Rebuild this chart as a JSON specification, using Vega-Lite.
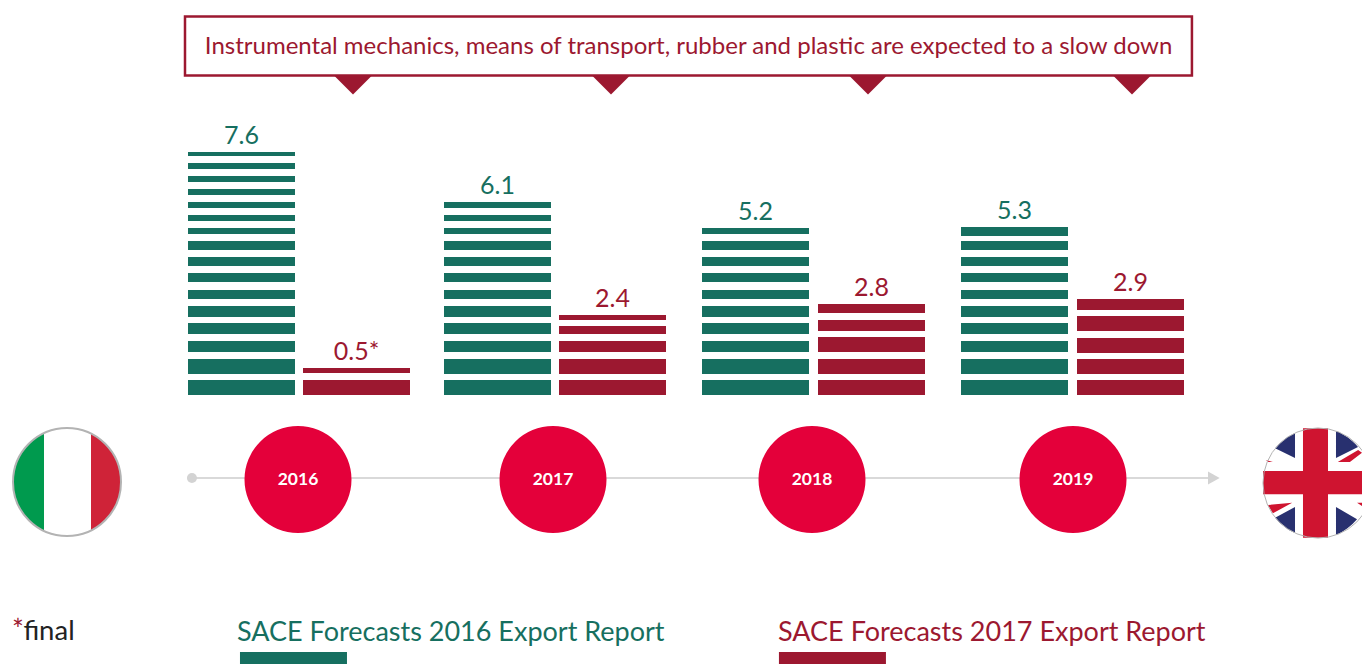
{"$schema":"https://vega.github.io/schema/vega-lite/v6.json","width":1362,"height":664,"autosize":{"type":"fit","contains":"padding"},"padding":0,"background":"white","config":{"view":{"stroke":null},"text":{"font":"Lato"}},
"datasets":{"bars":[
{"year":2016,"report":"2016","low":0,"level":0.46875},{"year":2016,"report":"2016","low":0.65625,"level":1.125},{"year":2016,"report":"2016","low":1.34375,"level":1.6875},{"year":2016,"report":"2016","low":1.90625,"level":2.25},{"year":2016,"report":"2016","low":2.4375,"level":2.78125},{"year":2016,"report":"2016","low":3,"level":3.28125},{"year":2016,"report":"2016","low":3.53125,"level":3.8125},{"year":2016,"report":"2016","low":4.03125,"level":4.3125},{"year":2016,"report":"2016","low":4.53125,"level":4.8125},{"year":2016,"report":"2016","low":5.03125,"level":5.21875},{"year":2016,"report":"2016","low":5.4375,"level":5.625},{"year":2016,"report":"2016","low":5.84375,"level":6.03125},{"year":2016,"report":"2016","low":6.25,"level":6.4375},{"year":2016,"report":"2016","low":6.65625,"level":6.84375},{"year":2016,"report":"2016","low":7.0625,"level":7.25},{"year":2016,"report":"2016","low":7.46875,"level":7.59375},
{"year":2017,"report":"2016","low":0,"level":0.46875},{"year":2017,"report":"2016","low":0.65625,"level":1.125},{"year":2017,"report":"2016","low":1.34375,"level":1.6875},{"year":2017,"report":"2016","low":1.90625,"level":2.25},{"year":2017,"report":"2016","low":2.4375,"level":2.78125},{"year":2017,"report":"2016","low":3,"level":3.28125},{"year":2017,"report":"2016","low":3.53125,"level":3.8125},{"year":2017,"report":"2016","low":4.03125,"level":4.3125},{"year":2017,"report":"2016","low":4.53125,"level":4.8125},{"year":2017,"report":"2016","low":5.03125,"level":5.21875},{"year":2017,"report":"2016","low":5.4375,"level":5.625},{"year":2017,"report":"2016","low":5.84375,"level":6.03125},
{"year":2018,"report":"2016","low":0,"level":0.46875},{"year":2018,"report":"2016","low":0.65625,"level":1.125},{"year":2018,"report":"2016","low":1.34375,"level":1.6875},{"year":2018,"report":"2016","low":1.90625,"level":2.25},{"year":2018,"report":"2016","low":2.4375,"level":2.78125},{"year":2018,"report":"2016","low":3,"level":3.28125},{"year":2018,"report":"2016","low":3.53125,"level":3.8125},{"year":2018,"report":"2016","low":4.03125,"level":4.3125},{"year":2018,"report":"2016","low":4.53125,"level":4.8125},{"year":2018,"report":"2016","low":5.03125,"level":5.21875},
{"year":2019,"report":"2016","low":0,"level":0.46875},{"year":2019,"report":"2016","low":0.65625,"level":1.125},{"year":2019,"report":"2016","low":1.34375,"level":1.6875},{"year":2019,"report":"2016","low":1.90625,"level":2.25},{"year":2019,"report":"2016","low":2.4375,"level":2.78125},{"year":2019,"report":"2016","low":3,"level":3.28125},{"year":2019,"report":"2016","low":3.53125,"level":3.8125},{"year":2019,"report":"2016","low":4.03125,"level":4.3125},{"year":2019,"report":"2016","low":4.53125,"level":4.8125},{"year":2019,"report":"2016","low":4.96875,"level":5.25},
{"year":2016,"report":"2017","low":0,"level":0.46875},{"year":2016,"report":"2017","low":0.6875,"level":0.84375},
{"year":2017,"report":"2017","low":0,"level":0.46875},{"year":2017,"report":"2017","low":0.65625,"level":1.125},{"year":2017,"report":"2017","low":1.34375,"level":1.6875},{"year":2017,"report":"2017","low":1.90625,"level":2.15625},{"year":2017,"report":"2017","low":2.34375,"level":2.5},
{"year":2018,"report":"2017","low":0,"level":0.46875},{"year":2018,"report":"2017","low":0.65625,"level":1.125},{"year":2018,"report":"2017","low":1.34375,"level":1.8125},{"year":2018,"report":"2017","low":2,"level":2.34375},{"year":2018,"report":"2017","low":2.5625,"level":2.84375},
{"year":2019,"report":"2017","low":0,"level":0.46875},{"year":2019,"report":"2017","low":0.65625,"level":1.125},{"year":2019,"report":"2017","low":1.3125,"level":1.78125},{"year":2019,"report":"2017","low":2,"level":2.46875},{"year":2019,"report":"2017","low":2.65625,"level":3}
],
"labels":[
{"year":2016,"report":"2016","label":"7.6","level":7.59375},{"year":2017,"report":"2016","label":"6.1","level":6.03125},{"year":2018,"report":"2016","label":"5.2","level":5.21875},{"year":2019,"report":"2016","label":"5.3","level":5.25},
{"year":2016,"report":"2017","label":"0.5*","level":0.84375},{"year":2017,"report":"2017","label":"2.4","level":2.5},{"year":2018,"report":"2017","label":"2.8","level":2.84375},{"year":2019,"report":"2017","label":"2.9","level":3}
],
"years":[{"when":2016.25,"level":-2.641,"label":"2016"},{"when":2017.25,"level":-2.641,"label":"2017"},{"when":2018.25,"level":-2.641,"label":"2018"},{"when":2019.25,"level":-2.641,"label":"2019"}],
"callouts":[{"when":2016.45,"level":9.969},{"when":2017.45,"level":9.969},{"when":2018.45,"level":9.969},{"when":2019.55,"level":9.969}],
"italy":[{"when":2015,"level":-2.719}],
"uk":[{"when":2020,"level":-2.75}],
"swatches":[{"report":"2016","when":2016.23,"level":-8.03125,"low":-8.40625},{"report":"2017","when":2018.323,"level":-8.03125,"low":-8.40625}],
"legendText":[{"report":"2016","when":2015.974,"level":-7.6875,"label":"SACE Forecasts 2016 Export Report"},{"report":"2017","when":2018.0996,"level":-7.6875,"label":"SACE Forecasts 2017 Export Report"}]
},
"encoding":{
"x":{"field":"when","type":"quantitative","axis":null,"scale":{"domain":[2015,2016,2016.25,2016.45,2016.5,2017,2017.25,2017.45,2017.5,2018,2018.25,2018.45,2018.5,2019,2019.25,2019.5,2019.55,2020],"range":[67,241.5,298,353,356.5,497.5,553,611,612.5,755.5,812,868,871.5,1014.5,1073,1130.5,1132,1318],"nice":false,"zero":false}},
"y":{"field":"level","type":"quantitative","axis":null,"scale":{"domain":[-8.40625,12.34375],"range":[664,0],"nice":false,"zero":false}},
"color":{"field":"report","type":"nominal","legend":null,"scale":{"domain":["2016","2017"],"range":["#166f60","#9c1830"]}}
},
"layer":[
{"data":{"name":"bars"},"transform":[{"calculate":"datum.year + (datum.report === '2017' ? 0.5 : 0)","as":"when"}],"mark":{"type":"rect","width":107},"encoding":{"y2":{"field":"low"}}},
{"data":{"name":"labels"},"transform":[{"calculate":"datum.year + (datum.report === '2017' ? 0.5 : 0)","as":"when"}],"mark":{"type":"text","fontSize":25,"dy":-8,"baseline":"alphabetic","align":"center"},"encoding":{"text":{"field":"label"}}},
{"data":{"values":[{"when":2015.6762,"end":2019.695,"level":11.828,"low":9.984}]},"mark":{"type":"rect","fill":"white","stroke":"#9c1830","strokeWidth":2.5},"encoding":{"x2":{"field":"end"},"y2":{"field":"low"},"color":{"value":null}}},
{"data":{"name":"callouts"},"mark":{"type":"point","filled":true,"shape":"M-1,0L1,0L0,1Z","size":1369,"opacity":1,"strokeWidth":0},"encoding":{"color":{"value":"#9c1830"}}},
{"data":{"values":[{"when":2017.766,"level":10.656,"label":"Instrumental mechanics, means of transport, rubber and plastic are expected to a slow down"}]},"mark":{"type":"text","fontSize":24,"align":"center","baseline":"alphabetic"},"encoding":{"text":{"field":"label"},"color":{"value":"#9c1830"}}},
{"data":{"values":[{"when":2015.716,"end":2019.734,"level":-2.594}]},"mark":{"type":"rule","strokeWidth":2},"encoding":{"x2":{"field":"end"},"color":{"value":"#d9d9d9"}}},
{"data":{"values":[{"when":2015.716,"level":-2.594}]},"mark":{"type":"point","filled":true,"shape":"circle","size":100,"opacity":1},"encoding":{"color":{"value":"#d3d3d3"}}},
{"data":{"values":[{"when":2019.748,"level":-2.594}]},"mark":{"type":"point","filled":true,"shape":"M-0.9,-1L0.9,0L-0.9,1Z","size":169,"opacity":1},"encoding":{"color":{"value":"#d3d3d3"}}},
{"data":{"name":"years"},"mark":{"type":"point","filled":true,"shape":"circle","size":11449,"opacity":1},"encoding":{"color":{"value":"#e4003a"}}},
{"data":{"name":"years"},"mark":{"type":"text","fontSize":17.5,"fontWeight":"bold","align":"center","baseline":"middle"},"encoding":{"text":{"field":"label"},"color":{"value":"white"}}},
{"data":{"name":"italy"},"mark":{"type":"point","filled":true,"shape":"circle","size":11664,"opacity":1},"encoding":{"color":{"value":"white"}}},
{"data":{"name":"italy"},"mark":{"type":"point","filled":true,"shape":"M-0.426,-0.905A1,1 0 0 0 -0.426,0.905Z","size":11664,"opacity":1},"encoding":{"color":{"value":"#009a4e"}}},
{"data":{"name":"italy"},"mark":{"type":"point","filled":true,"shape":"M0.444,-0.896A1,1 0 0 1 0.444,0.896Z","size":11664,"opacity":1},"encoding":{"color":{"value":"#cf2338"}}},
{"data":{"name":"italy"},"mark":{"type":"point","filled":false,"shape":"circle","size":11664,"strokeWidth":2,"opacity":1},"encoding":{"color":{"value":"#b3b3b3"}}},
{"data":{"name":"uk"},"mark":{"type":"point","filled":true,"shape":"circle","size":12100,"opacity":1},"encoding":{"color":{"value":"white"}}},
{"data":{"name":"uk"},"mark":{"type":"point","filled":true,"shape":"M-0.78,-0.63L-0.418,-0.455L-0.418,-0.91A1,1 0 0 0 -0.78,-0.63ZM0.327,-0.945L0.327,-0.455L0.727,-0.655A1,1 0 0 0 0.327,-0.945ZM-0.78,0.63L-0.418,0.436L-0.418,0.91A1,1 0 0 1 -0.78,0.63ZM0.327,0.945L0.327,0.436L0.71,0.66A1,1 0 0 1 0.327,0.945Z","size":12100,"opacity":1},"encoding":{"color":{"value":"#28306f"}}},
{"data":{"name":"uk"},"mark":{"type":"point","filled":true,"shape":"M-0.95,-0.42L-0.82,-0.38L-0.9,-0.38ZM-0.91,0.4L-0.47,0.36L-0.82,0.55ZM0.36,-0.38L0.73,-0.6L0.8,-0.55L0.58,-0.38ZM0.71,0.36L0.8,0.42L0.8,0.36Z","size":12100,"opacity":1},"encoding":{"color":{"value":"#cf1430"}}},
{"data":{"name":"uk"},"mark":{"type":"point","filled":true,"shape":"M-0.273,-0.995L0.182,-0.995L0.182,-0.218L1,-0.218L1,0.205L0.182,0.205L0.182,0.995L-0.273,0.995L-0.273,0.205L-1,0.205L-1,-0.218L-0.273,-0.218Z","size":12100,"opacity":1},"encoding":{"color":{"value":"#cf1430"}}},
{"data":{"name":"uk"},"mark":{"type":"point","filled":false,"shape":"circle","size":12100,"strokeWidth":1,"opacity":1},"encoding":{"color":{"value":"#b3b3b3"}}},
{"data":{"values":[{"when":2014.685,"level":-7.656,"label":"*"}]},"mark":{"type":"text","fontSize":28,"align":"left","baseline":"alphabetic"},"encoding":{"text":{"field":"label"},"color":{"value":"#9c1830"}}},
{"data":{"values":[{"when":2014.75,"level":-7.656,"label":"final"}]},"mark":{"type":"text","fontSize":27.5,"align":"left","baseline":"alphabetic"},"encoding":{"text":{"field":"label"},"color":{"value":"#222222"}}},
{"data":{"name":"swatches"},"mark":{"type":"rect","width":107},"encoding":{"y2":{"field":"low"}}},
{"data":{"name":"legendText"},"mark":{"type":"text","fontSize":27,"align":"left","baseline":"alphabetic"},"encoding":{"text":{"field":"label"}}}
]}
